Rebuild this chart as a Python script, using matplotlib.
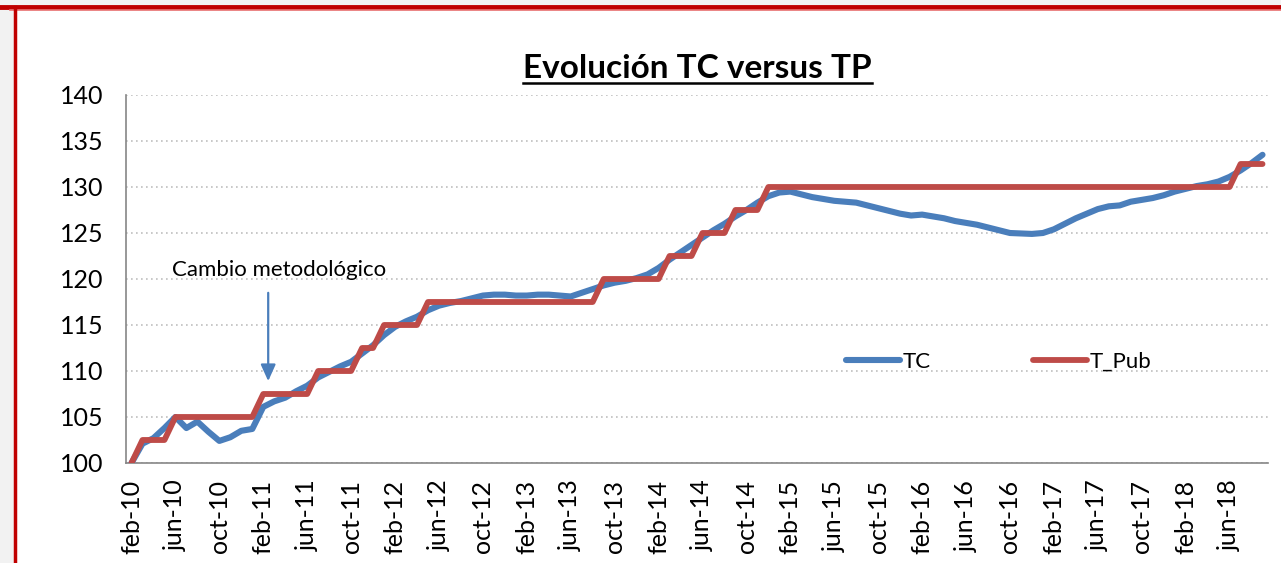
"""Evolución TC versus TP chart"""

import matplotlib
matplotlib.use("Agg")
from matplotlib import pyplot as plt
from matplotlib.lines import Line2D
from matplotlib.patches import Rectangle

# Monthly series, feb-10 .. sep-18
tc = [
    100.0, 102.1, 102.7, 103.8, 105.0, 103.8, 104.5, 103.4, 102.4, 102.8,
    103.5, 103.7, 106.1, 106.7, 107.1, 107.8, 108.4, 109.3, 109.9, 110.5,
    111.0, 111.9, 112.8, 113.9, 114.8, 115.4, 115.9, 116.6, 117.1, 117.4,
    117.6, 117.9, 118.2, 118.3, 118.3, 118.2, 118.2, 118.3, 118.3, 118.2,
    118.1, 118.5, 118.9, 119.3, 119.6, 119.8, 120.1, 120.5, 121.2, 122.1,
    122.9, 123.7, 124.5, 125.3, 126.0, 126.8, 127.5, 128.3, 129.0, 129.4,
    129.5, 129.2, 128.9, 128.7, 128.5, 128.4, 128.3, 128.0, 127.7, 127.4,
    127.1, 126.9, 127.0, 126.8, 126.6, 126.3, 126.1, 125.9, 125.6, 125.3,
    125.0, 124.95, 124.9, 125.0, 125.4, 126.0, 126.6, 127.1, 127.6, 127.9,
    128.0, 128.4, 128.6, 128.8, 129.1, 129.5, 129.8, 130.1, 130.3, 130.6,
    131.1, 131.8, 132.6, 133.5,
]
t_pub = (
    [100.0] + [102.5] * 3 + [105.0] * 8 + [107.5] * 5 + [110.0] * 4
    + [112.5] * 2 + [115.0] * 4 + [117.5] * 16 + [120.0] * 6
    + [122.5] * 3 + [125.0] * 3 + [127.5] * 3 + [130.0] * 43 + [132.5] * 3
)

tick_labels = [
    "feb-10", "jun-10", "oct-10", "feb-11", "jun-11", "oct-11", "feb-12",
    "jun-12", "oct-12", "feb-13", "jun-13", "oct-13", "feb-14", "jun-14",
    "oct-14", "feb-15", "jun-15", "oct-15", "feb-16", "jun-16", "oct-16",
    "feb-17", "jun-17", "oct-17", "feb-18", "jun-18",
]
y_ticks = [100, 105, 110, 115, 120, 125, 130, 135, 140]

BLUE = "#4a7ebb"
RED = "#be4b48"
FONT = ["Lato", "DejaVu Sans"]

plt.rcParams["font.family"] = FONT

fig = plt.figure(figsize=(12.81, 5.63), dpi=100)
fig.patch.set_facecolor("white")

# slide frame: light background strip and red border
fig.patches.append(Rectangle((0, 0), 1, 1, transform=fig.transFigure,
                             facecolor="#f2f2f2", edgecolor="none", zorder=-3))
fig.patches.append(Rectangle((15 / 1281, -0.1), 1.1, 1 - 7 / 563 + 0.1,
                             transform=fig.transFigure, facecolor="white",
                             edgecolor="none", zorder=-2))
fig.lines.append(Line2D([0, 1], [1 - 7 / 563] * 2, transform=fig.transFigure,
                        color="#c00000", lw=3.5, zorder=5))
fig.lines.append(Line2D([0.008, 1], [1 - 10 / 563] * 2, transform=fig.transFigure,
                        color="#e87070", lw=1.2, zorder=5))
fig.lines.append(Line2D([15 / 1281] * 2, [0, 1 - 7 / 563], transform=fig.transFigure,
                        color="#c00000", lw=2.5, zorder=5))

ax = fig.add_axes([126 / 1281, 1 - 463 / 563, (1268 - 126) / 1281, (463 - 95) / 563])
x = list(range(len(tc)))
ax.plot(x, tc, color=BLUE, lw=4.4, solid_capstyle="round", label="TC", zorder=3)
ax.plot(x, t_pub, color=RED, lw=4.2, solid_capstyle="round", label="T_Pub", zorder=4)

ax.set_xlim(-0.5, len(tc) - 0.5)
ax.set_ylim(100, 140)
ax.set_yticks(y_ticks)
ax.set_xticks(range(0, 4 * len(tick_labels), 4))
ax.set_xticklabels(tick_labels, rotation=90)
ax.tick_params(axis="both", length=0, labelsize=18, colors="black")
ax.tick_params(axis="y", pad=16)
ax.tick_params(axis="x", pad=12)
ax.yaxis.grid(True, linestyle=(0, (1, 2)), color="#bfbfbf", lw=1.2)
ax.set_axisbelow(True)
for side in ("top", "right"):
    ax.spines[side].set_visible(False)
for side in ("left", "bottom"):
    ax.spines[side].set_color("#868686")
    ax.spines[side].set_linewidth(1.2)

# annotation
ax.text(13.45, 121.0, "Cambio metodológico", ha="center", va="center", fontsize=16)
ax.annotate("", xy=(12.45, 108.6), xytext=(12.45, 118.8),
            arrowprops=dict(arrowstyle="-|>,head_width=0.45,head_length=1.0",
                            color=BLUE, lw=1.6))

ax.legend(loc="center", bbox_to_anchor=(0.764, 0.275), ncol=2, frameon=False,
          fontsize=16, handlelength=2.45, columnspacing=4.6, handletextpad=0.1)

# title with underline
fig.text(697 / 1281, 1 - 68 / 563, "Evolución TC versus TP", ha="center",
         va="center", fontsize=24, fontweight="bold")
fig.lines.append(Line2D([523 / 1281, 872 / 1281], [1 - 83 / 563] * 2,
                        transform=fig.transFigure, color="black", lw=1.8))

fig.savefig("out.png", dpi=100)
